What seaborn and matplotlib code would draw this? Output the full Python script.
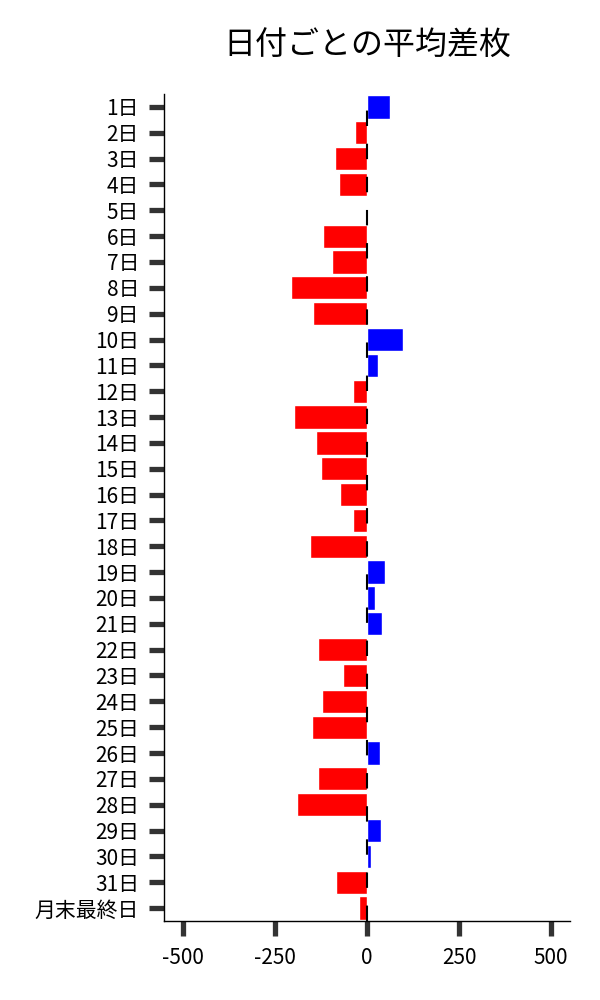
import pandas as pd
import matplotlib
matplotlib.use('Agg')
import matplotlib.pyplot as plt
import seaborn as sns

# labels and values
days = [f'{i}日' for i in range(1, 32)] + ['月末最終日']
avg_diff = [62, -32, -86, -75, 2, -119, -94, -205, -146, 98, 31,
            -37, -197, -138, -124, -72, -37, -154, 50, 23, 42,
            -132, -64, -121, -148, 36, -132, -189, 39, 12, -84, -22]

df = pd.DataFrame({'day': days, 'diff': avg_diff})
df['sign'] = ['plus' if v >= 0 else 'minus' for v in df['diff']]

sns.set_style('ticks')
plt.rcParams['font.family'] = ['Noto Sans CJK JP', 'DejaVu Sans']
plt.rcParams['axes.unicode_minus'] = False
plt.rcParams['text.color'] = 'black'
plt.rcParams['xtick.labelcolor'] = 'black'
plt.rcParams['ytick.labelcolor'] = 'black'

fig, ax = plt.subplots(figsize=(6, 10), dpi=100)
fig.subplots_adjust(left=0.273, right=0.95, top=0.906, bottom=0.079)

sns.barplot(data=df, y='day', x='diff', hue='sign', dodge=False,
            palette={'plus': 'blue', 'minus': 'red'}, saturation=1,
            width=0.9, legend=False, ax=ax)
ax.axvline(0, color='black', lw=1.5, ls=(0, (7.4, 8.5)))

ax.set_xlim(-551, 551)
ax.set_xticks([-500, -250, 0, 250, 500])
ax.set_xlabel('')
ax.set_ylabel('')
ax.set_title('日付ごとの平均差枚', fontsize=23, pad=28, color='black')
ax.tick_params(axis='both', labelsize=15, length=10.8, width=3.8, color='#333333')
ax.tick_params(axis='y', pad=7)
ax.tick_params(axis='x', pad=8)
for s in ['left', 'bottom']:
    ax.spines[s].set_color('black')
    ax.spines[s].set_linewidth(1)
sns.despine(ax=ax)

fig.savefig('out.png', dpi=100)
